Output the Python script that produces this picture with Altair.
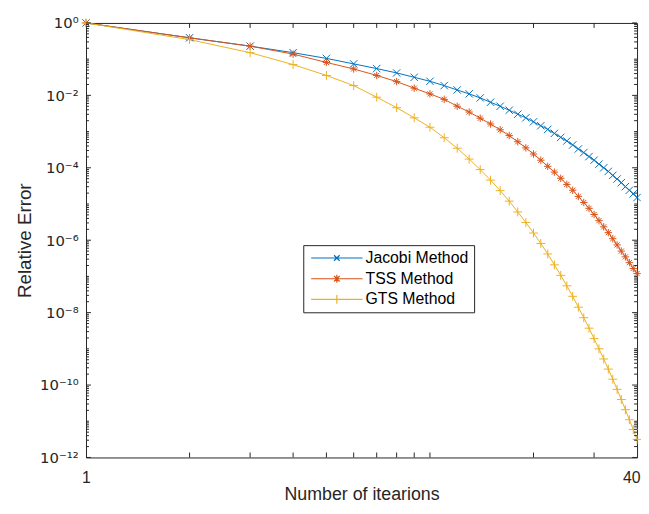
import altair as alt
import pandas as pd

iterations = list(range(1, 41))
jacobi = [1.0, 0.389, 0.229, 0.151, 0.105, 0.0741, 0.0550, 0.0417, 0.0316, 0.0245,
          0.0186, 0.0141, 0.0110, 8.51e-3, 6.46e-3, 5.01e-3, 3.89e-3, 3.02e-3, 2.40e-3, 1.86e-3,
          1.45e-3, 1.15e-3, 8.91e-4, 6.92e-4, 5.50e-4, 4.27e-4, 3.31e-4, 2.63e-4, 2.04e-4, 1.62e-4,
          1.26e-4, 1.00e-4, 7.94e-5, 6.17e-5, 4.90e-5, 3.89e-5, 3.02e-5, 2.40e-5, 1.91e-5, 1.51e-5]
tss = [1.0, 0.389, 0.229, 0.138, 0.0813, 0.0537, 0.0355, 0.0240, 0.0158, 0.0110,
       7.76e-3, 5.01e-3, 3.47e-3, 2.34e-3, 1.62e-3, 1.12e-3, 7.76e-4, 5.25e-4, 3.55e-4, 2.40e-4,
       1.62e-4, 1.10e-4, 7.59e-5, 5.13e-5, 3.47e-5, 2.40e-5, 1.62e-5, 1.10e-5, 7.59e-6, 5.13e-6,
       3.47e-6, 2.34e-6, 1.62e-6, 1.10e-6, 7.41e-7, 5.01e-7, 3.47e-7, 2.40e-7, 1.66e-7, 1.20e-7]
gts = [1.0, 0.347, 0.151, 0.0708, 0.0355, 0.0186, 8.91e-3, 4.57e-3, 2.40e-3, 1.32e-3,
       6.76e-4, 3.47e-4, 1.74e-4, 8.91e-5, 4.57e-5, 2.34e-5, 1.20e-5, 6.03e-6, 3.09e-6, 1.58e-6,
       8.13e-7, 4.17e-7, 2.09e-7, 1.07e-7, 5.50e-8, 2.82e-8, 1.41e-8, 7.24e-9, 3.72e-9, 1.91e-9,
       1.00e-9, 5.25e-10, 2.75e-10, 1.45e-10, 7.59e-11, 3.98e-11, 2.09e-11, 1.10e-11, 5.89e-12, 3.16e-12]

series_names = ["Jacobi Method", "TSS Method", "GTS Method"]
series_colors = ["#0072BD", "#D95319", "#EDB120"]
marker_paths = [
    "M-1,-1L1,1M1,-1L-1,1",
    "M-1,0L1,0M0,-1L0,1M-0.7,-0.7L0.7,0.7M0.7,-0.7L-0.7,0.7",
    "M-1.2,0L1.2,0M0,-1.2L0,1.2",
]
legend_paths = [
    "M-6.5,0L6.5,0M-0.7,-0.7L0.7,0.7M0.7,-0.7L-0.7,0.7",
    "M-6.5,0L6.5,0M0,-1L0,1M-0.7,-0.7L0.7,0.7M0.7,-0.7L-0.7,0.7",
    "M-6.5,0L6.5,0M0,-1.1L0,1.1",
]

ytick_values = [1, 1e-2, 1e-4, 1e-6, 1e-8, 1e-10, 1e-12]
ytick_labels = ["10⁰", "10⁻²", "10⁻⁴", "10⁻⁶", "10⁻⁸", "10⁻¹⁰", "10⁻¹²"]
xtick_label_values = [1, 40]
xtick_marks = [2, 3, 4, 5, 6, 7, 8, 9, 10, 20, 30]
ytick_major = [1, 1e-2, 1e-4, 1e-6, 1e-8, 1e-10, 1e-12]
ytick_minor = [m * 10.0 ** k for k in range(-12, 0) for m in range(1, 10)]
ytick_minor = [v for v in ytick_minor if v not in ytick_major]

W, H = 558, 440
INK = "#262626"
FONT = "Liberation Sans"

rows = []
for name, vals in zip(series_names, [jacobi, tss, gts]):
    for it, v in zip(iterations, vals):
        rows.append({"iter": it, "err": v, "series": name, "leg": name})
df = pd.DataFrame(rows)

xscale = alt.Scale(type="log", domain=[1, 40], nice=False)
yscale = alt.Scale(type="log", domain=[1e-12, 1], nice=False)
cscale = alt.Scale(domain=series_names, range=series_colors)

expr = "".join(f"datum.value > {v / 3} ? '{lab}' : " for v, lab in zip(ytick_values, ytick_labels)) + "''"

xaxis = alt.Axis(values=xtick_label_values, labelExpr="format(datum.value, 'd')",
                 labelFontSize=16, labelPadding=12, labelColor=INK, labelFlush=False,
                 labelAlign={"expr": "datum.value > 20 ? 'right' : 'center'"},
                 labelOffset={"expr": "datum.value > 20 ? 3 : 0"},
                 title="Number of itearions", titleFontSize=18, titleX=W / 2, titleY=38,
                 titleBaseline="middle", titleColor=INK, titleFontWeight="normal",
                 labelFont=FONT, titleFont=FONT)
yaxis = alt.Axis(values=ytick_values, labelExpr=expr, labelFontSize=15, labelPadding=8,
                 labelColor=INK, title="Relative Error", titleFontSize=19, titleX=-62,
                 titleY=H / 2, titleBaseline="middle", titleAlign="center", titleColor=INK,
                 titleFontWeight="normal", labelFont="DejaVu Sans", titleFont=FONT)

lines = alt.Chart(df).mark_line(strokeWidth=1).encode(
    x=alt.X("iter:Q", scale=xscale, axis=xaxis),
    y=alt.Y("err:Q", scale=yscale, axis=yaxis),
    color=alt.Color("series:N", scale=cscale, legend=None),
)

points = alt.Chart(df).mark_point(filled=False, size=56, strokeWidth=1, opacity=1).encode(
    x=alt.X("iter:Q", scale=xscale, axis=xaxis),
    y=alt.Y("err:Q", scale=yscale, axis=yaxis),
    color=alt.Color("series:N", scale=cscale, legend=None),
    shape=alt.Shape("series:N", scale=alt.Scale(domain=series_names, range=marker_paths), legend=None),
)

leg = alt.Legend(title=None, orient="none", legendX=220, legendY=225, padding=5,
                 strokeColor=INK, fillColor="white", symbolSize=64, symbolStrokeWidth=1.2,
                 symbolOffset=21, labelOffset=21, labelFontSize=16, labelFont=FONT,
                 labelColor="black", rowPadding=5, symbolOpacity=1, zindex=2)
legend_layer = alt.Chart(df).mark_point(filled=False, opacity=0, strokeWidth=1).encode(
    x=alt.X("iter:Q", scale=xscale, axis=xaxis),
    y=alt.Y("err:Q", scale=yscale, axis=yaxis),
    stroke=alt.Stroke("leg:N", scale=cscale, legend=leg),
    shape=alt.Shape("leg:N", scale=alt.Scale(domain=series_names, range=legend_paths), legend=leg),
)

def ytick_layer(vals, x0, x1):
    return alt.Chart(pd.DataFrame({"err": vals})).mark_rule(color=INK, strokeWidth=1).encode(
        y=alt.Y("err:Q", scale=yscale, axis=yaxis), x=alt.value(x0), x2=alt.value(x1))

def xtick_layer(vals, y0, y1):
    return alt.Chart(pd.DataFrame({"iter": vals})).mark_rule(color=INK, strokeWidth=1).encode(
        x=alt.X("iter:Q", scale=xscale, axis=xaxis), y=alt.value(y0), y2=alt.value(y1))

ticks = [
    ytick_layer(ytick_major, 0, 5), ytick_layer(ytick_major, W - 5, W),
    ytick_layer(ytick_minor, 0, 3), ytick_layer(ytick_minor, W - 3, W),
    xtick_layer(xtick_marks, H - 5, H), xtick_layer(xtick_marks, 0, 5),
]

chart = alt.layer(lines, points, legend_layer, *ticks).resolve_scale(
    color="independent", shape="independent", stroke="independent"
).properties(
    width=W, height=H,
    padding={"left": 79, "top": 12, "right": 4, "bottom": 46},
    autosize=alt.AutoSizeParams(type="none"),
).configure_view(stroke=INK, strokeWidth=1).configure_axis(
    domain=False, ticks=False, grid=False
)

chart.save("out.html", embed_options={"renderer": "svg", "actions": False})
